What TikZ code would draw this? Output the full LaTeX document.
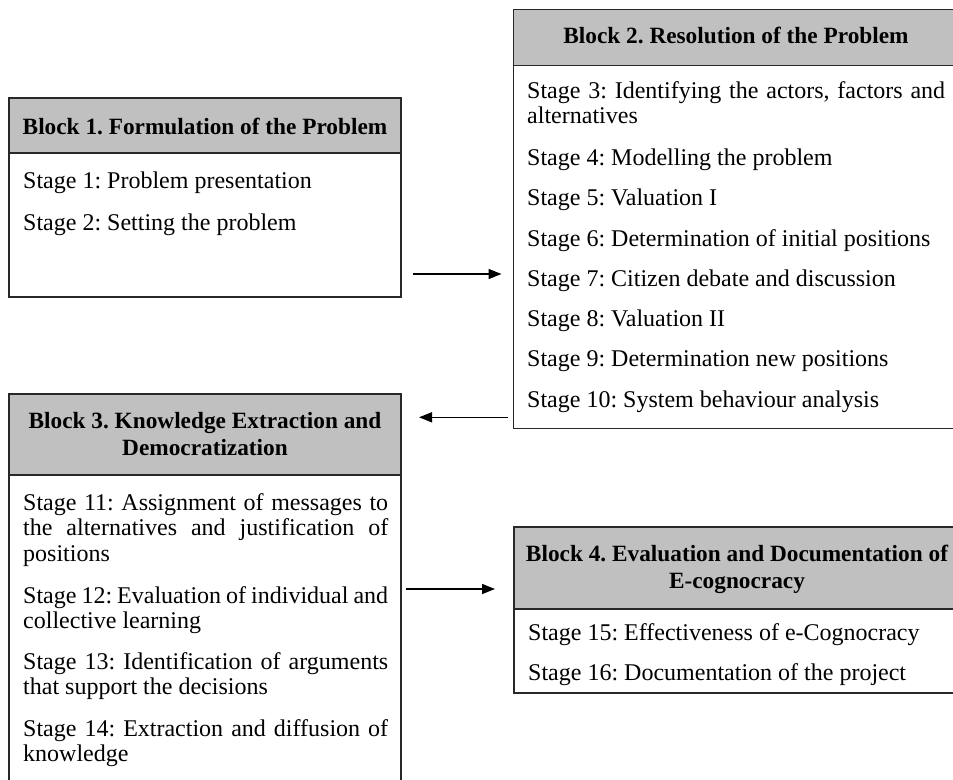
\documentclass[tikz,border=0pt]{standalone}
\usepackage{fontspec}
\setmainfont{Liberation Serif}
\usetikzlibrary{arrows.meta,calc}

\definecolor{hdrgray}{RGB}{192,192,192}
\definecolor{edgegray}{RGB}{40,40,40}

\newcommand{\headfont}{\fontsize{23.3}{25.5}\selectfont}
\newcommand{\stagefont}{\fontsize{24}{25.5}\selectfont}

\tikzset{
  hdrbox/.style={draw=edgegray, line width=1.4pt, fill=hdrgray, anchor=north west,
    inner sep=0pt, outer sep=0pt, rectangle},
  bodybox/.style={draw=edgegray, line width=1.4pt, fill=white, anchor=north west,
    inner sep=0pt, outer sep=0pt, rectangle},
  hdrtext/.style={anchor=base, inner sep=0pt, font=\headfont\bfseries},
  stagetext/.style={anchor=base west, inner sep=0pt, font=\stagefont},
  flow/.style={line width=1.5pt, -{Triangle[length=13pt,width=10pt]}},
}

% justified line of a given width
\newcommand{\jline}[2]{\makebox[#1][s]{#2}}

\begin{document}
\frenchspacing
\begin{tikzpicture}[x=1pt,y=-1pt]
\useasboundingbox (0,0) rectangle (953,779);
\clip (0,0) rectangle (953,779);
\fill[white] (0,0) rectangle (953,779);

% ---------- Block 1 ----------
\node[hdrbox, minimum width=392pt, minimum height=55pt] (b1h) at (9,98) {};
\node[bodybox, minimum width=392pt, minimum height=144pt] (b1) at (b1h.south west) {};
\node[hdrtext] (b1t) at (205,134) {Block 1. Formulation of the Problem};
\node[stagetext] (s1) at (23,188) {Stage 1: Problem presentation};
\node[stagetext] (s2) at (23,230) {Stage 2: Setting the problem};

% ---------- Block 2 ----------
\node[hdrbox, minimum width=446pt, minimum height=56pt] (b2h) at (513.5,9.3) {};
\node[bodybox, minimum width=446pt, minimum height=363pt] (b2) at (b2h.south west) {};
\node[hdrtext] (b2t) at (736,43) {Block 2. Resolution of the Problem};
\node[stagetext] (s3a) at (527,98) {\jline{418pt}{Stage 3: Identifying the actors, factors and}};
\node[stagetext] (s3b) at (527,123) {alternatives};
\node[stagetext] (s4) at (527,165) {Stage 4: Modelling the problem};
\node[stagetext] (s5) at (527,205) {Stage 5: Valuation I};
\node[stagetext] (s6) at (527,246) {Stage 6: Determination of initial positions};
\node[stagetext] (s7) at (527,286) {Stage 7: Citizen debate and discussion};
\node[stagetext] (s8) at (527,326) {Stage 8: Valuation II};
\node[stagetext] (s9) at (527,366) {Stage 9: Determination new positions};
\node[stagetext] (s10) at (527,407) {Stage 10: System behaviour analysis};

% ---------- Block 3 ----------
\node[hdrbox, minimum width=392pt, minimum height=81pt] (b3h) at (9,394) {};
\node[bodybox, minimum width=392pt, minimum height=340pt] (b3) at (b3h.south west) {};
\node[hdrtext] (b3t1) at (205,428) {Block 3. Knowledge Extraction and};
\node[hdrtext] (b3t2) at (205,455) {Democratization};
\node[stagetext] (s11a) at (23,510) {\jline{365pt}{Stage 11: Assignment of messages to}};
\node[stagetext] (s11b) at (23,535.5) {\jline{365pt}{the alternatives and justification of}};
\node[stagetext] (s11c) at (23,561) {positions};
\node[stagetext] (s12a) at (23,603) {\jline{365pt}{Stage 12: Evaluation of individual and}};
\node[stagetext] (s12b) at (23,628.5) {collective learning};
\node[stagetext] (s13a) at (23,669) {\jline{365pt}{Stage 13: Identification of arguments}};
\node[stagetext] (s13b) at (23,694.5) {that support the decisions};
\node[stagetext] (s14a) at (23,736) {\jline{365pt}{Stage 14: Extraction and diffusion of}};
\node[stagetext] (s14b) at (23,761.5) {knowledge};

% ---------- Block 4 ----------
\node[hdrbox, minimum width=446pt, minimum height=82pt] (b4h) at (514,527) {};
\node[bodybox, minimum width=446pt, minimum height=84pt] (b4) at (b4h.south west) {};
\node[hdrtext] (b4t1) at (737,561) {Block 4. Evaluation and Documentation of};
\node[hdrtext] (b4t2) at (737,588) {E-cognocracy};
\node[stagetext] (s15) at (528,640) {Stage 15: Effectiveness of e-Cognocracy};
\node[stagetext] (s16) at (528,680) {Stage 16: Documentation of the project};

% ---------- Connectors ----------
\coordinate (a1s) at ($(b1.south east)+(12,-23)$);
\coordinate (a1e) at ($(b2.west |- a1s)+(-12,0)$);
\draw[flow] (a1s) -- (a1e);

\coordinate (a2s) at ($(b2.south west)+(-6,-11)$);
\coordinate (a2e) at ($(b3h.east |- a2s)+(18,0)$);
\draw[flow] (a2s) -- (a2e);

\coordinate (a3s) at ($(b3.north east |- b4h.south east)+(5,-20)$);
\coordinate (a3e) at ($(b4h.west |- a3s)+(-19,0)$);
\draw[flow] (a3s) -- (a3e);
\end{tikzpicture}
\end{document}
